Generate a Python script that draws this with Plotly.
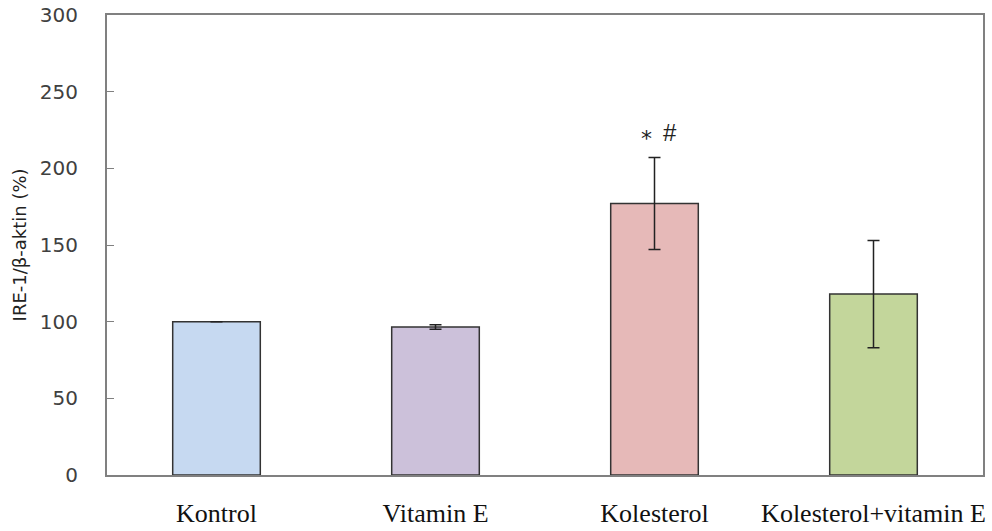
import plotly.graph_objects as go

categories = ["Kontrol", "Vitamin E", "Kolesterol", "Kolesterol+vitamin E"]
values = [100, 96.5, 177, 118]
errors = [None, 1.5, 30, 35]
colors = ["#C6D9F1", "#CCC1DA", "#E6B9B8", "#C3D69B"]
y_ticks = [0, 50, 100, 150, 200, 250, 300]
y_title = "IRE-1/β-aktin (%)"
sig_label_star = "*"
sig_label_hash = "#"

fig = go.Figure()
fig.add_trace(go.Bar(
    x=categories, y=values,
    marker=dict(color=colors, line=dict(color="#333333", width=1.5)),
    width=0.4,
    error_y=dict(type="data", array=errors, visible=True,
                 color="#222222", thickness=1.5, width=6),
    showlegend=False,
))

fig.add_annotation(x=categories[2], y=224, text=sig_label_star, showarrow=False,
                   xshift=-8, yshift=-7, font=dict(family="DejaVu Sans", size=22, color="#222"))
fig.add_annotation(x=categories[2], y=224, text=sig_label_hash, showarrow=False,
                   xshift=15, yshift=-1, font=dict(family="Liberation Sans", size=24, color="#222"))

fig.add_annotation(xref="paper", yref="paper", x=-0.1, y=0.5, xanchor="center", yanchor="middle",
                   text=y_title, textangle=-90, showarrow=False,
                   font=dict(family="DejaVu Sans", size=18, color="#222"))

fig.update_layout(
    width=992, height=531,
    margin=dict(l=107, r=9, t=15, b=56),
    paper_bgcolor="white", plot_bgcolor="white",
    bargap=0.6,
)
fig.update_xaxes(
    showline=True, linecolor="#808080", linewidth=2, mirror=True,
    ticks="", showgrid=False, automargin=False,
    tickfont=dict(family="Liberation Serif", size=26, color="#111"),
    ticklabelstandoff=14,
)
fig.update_yaxes(
    range=[0, 300], tickvals=y_ticks,
    showline=True, linecolor="#808080", linewidth=2, mirror=True,
    ticks="inside", ticklen=7, tickcolor="#808080", tickwidth=1,
    showgrid=False, zeroline=False, automargin=False,
    tickfont=dict(family="DejaVu Sans", size=20, color="#404040"),
    ticklabelstandoff=23,
)

fig.write_html("out.html", config={"displayModeBar": False},
               post_script="document.body.style.margin='0';")
